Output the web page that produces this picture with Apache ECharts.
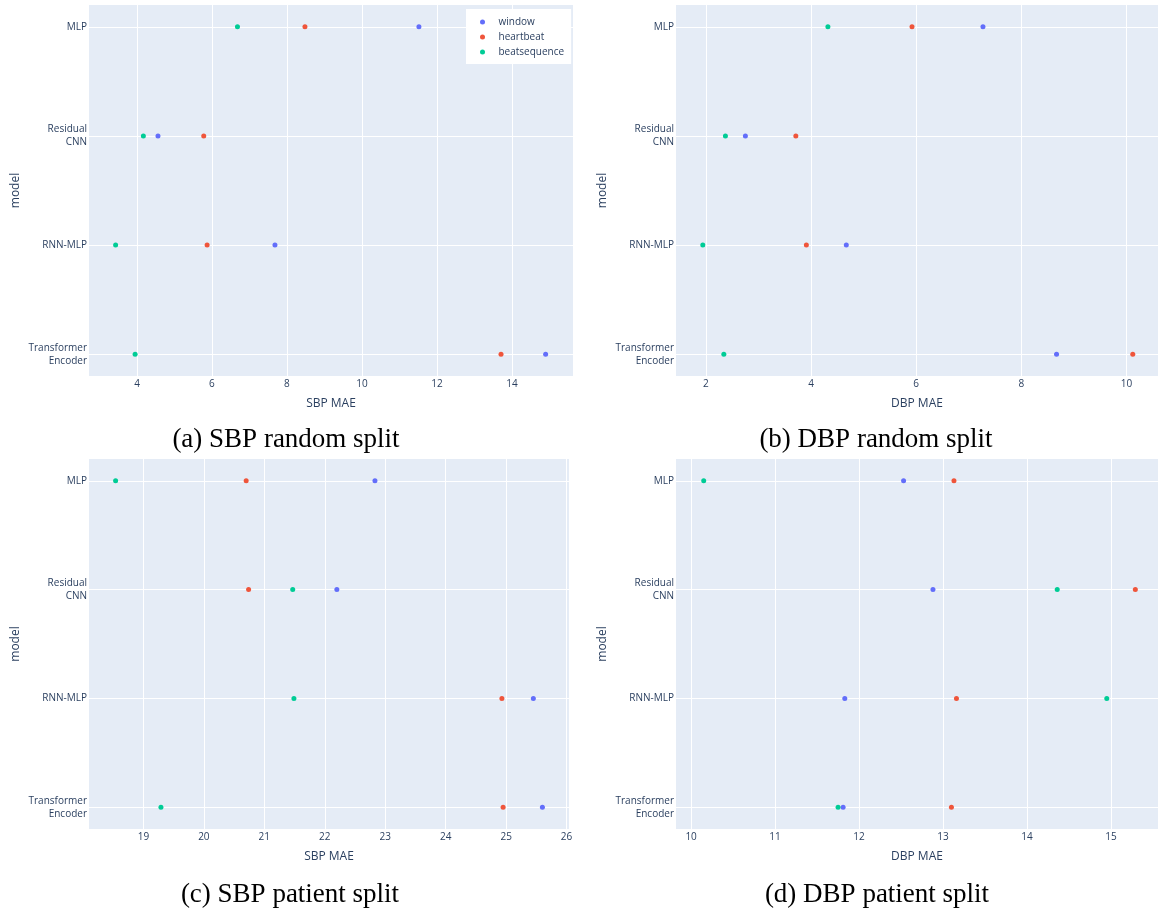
<!DOCTYPE html>
<html>
<head>
<meta charset="utf-8">
<script src="https://cdn.jsdelivr.net/npm/echarts@6/dist/echarts.min.js"></script>
<style>
html,body{margin:0;padding:0;background:#fff;}
#chart{width:1158px;height:909px;}
</style>
</head>
<body>
<div id="chart"></div>
<script>
// ---------- data ----------
const models = ['MLP', 'Residual\nCNN', 'RNN-MLP', 'Transformer\nEncoder'];
const seriesNames = ['window', 'heartbeat', 'beatsequence'];
const seriesColors = ['#636efa', '#EF553B', '#00cc96'];

// (a) SBP random split
const sbpRandomWindow = [11.52, 4.56, 7.68, 14.90];
const sbpRandomHeartbeat = [8.48, 5.78, 5.87, 13.71];
const sbpRandomBeatseq = [6.68, 4.17, 3.43, 3.95];
// (b) DBP random split
const dbpRandomWindow = [7.27, 2.75, 4.67, 8.67];
const dbpRandomHeartbeat = [5.92, 3.71, 3.91, 10.12];
const dbpRandomBeatseq = [4.32, 2.37, 1.94, 2.34];
// (c) SBP patient split
const sbpPatientWindow = [22.83, 22.20, 25.45, 25.60];
const sbpPatientHeartbeat = [20.70, 20.74, 24.93, 24.95];
const sbpPatientBeatseq = [18.54, 21.47, 21.49, 19.29];
// (d) DBP patient split
const dbpPatientWindow = [12.53, 12.88, 11.83, 11.81];
const dbpPatientHeartbeat = [13.13, 15.29, 13.16, 13.10];
const dbpPatientBeatseq = [10.15, 14.36, 14.95, 11.75];

const xTitles = ['SBP MAE', 'DBP MAE', 'SBP MAE', 'DBP MAE'];
const captions = ['(a) SBP random split', '(b) DBP random split', '(c) SBP patient split', '(d) DBP patient split'];
const xRanges = [[2.72, 15.63], [1.43, 10.60], [18.10, 26.04], [9.82, 15.56]];
const xSteps = [2, 2, 1, 1];

const panelData = [
  [sbpRandomWindow, sbpRandomHeartbeat, sbpRandomBeatseq],
  [dbpRandomWindow, dbpRandomHeartbeat, dbpRandomBeatseq],
  [sbpPatientWindow, sbpPatientHeartbeat, sbpPatientBeatseq],
  [dbpPatientWindow, dbpPatientHeartbeat, dbpPatientBeatseq]
];

// ---------- layout ----------
const grids = [
  {left: 89, top: 5, width: 484, height: 371},
  {left: 676, top: 5, width: 482, height: 371},
  {left: 89, top: 459, width: 480, height: 370},
  {left: 676, top: 459, width: 482, height: 370}
];
const captionPos = [
  {left: 286, top: 426},
  {left: 876, top: 426},
  {left: 290, top: 881},
  {left: 877, top: 881}
];

const TXT = '#2a3f5f';
const FONT = '"Open Sans", sans-serif';

const option = {
  animation: false,
  backgroundColor: '#ffffff',
  textStyle: {fontFamily: FONT},
  grid: grids.map(g => Object.assign({show: true, backgroundColor: '#E5ECF6', borderWidth: 0, containLabel: false}, g)),
  title: captions.map((c, i) => ({
    text: c, left: captionPos[i].left, top: captionPos[i].top, textAlign: 'center', padding: 0,
    textStyle: {fontFamily: '"Liberation Serif", "Times New Roman", serif', fontWeight: 'normal', fontSize: 27, color: '#000'}
  })),
  legend: {
    data: seriesNames,
    orient: 'vertical',
    left: 466, top: 9,
    backgroundColor: '#ffffff',
    padding: [7, 7, 6, 14],
    icon: 'circle',
    itemWidth: 22, itemHeight: 5,
    itemGap: 3,
    textStyle: {fontFamily: FONT, fontSize: 10, color: TXT, lineHeight: 12}
  },
  xAxis: grids.map((g, i) => ({
    type: 'value', gridIndex: i,
    min: xRanges[i][0], max: xRanges[i][1],
    minInterval: xSteps[i], maxInterval: xSteps[i],
    name: xTitles[i], nameLocation: 'middle', nameGap: 22,
    nameTextStyle: {fontFamily: FONT, fontSize: 12, color: TXT},
    axisLine: {show: false}, axisTick: {show: false},
    axisLabel: {fontFamily: FONT, fontSize: 10, color: TXT, margin: 3, showMinLabel: false, showMaxLabel: false},
    splitLine: {show: true, showMinLine: false, showMaxLine: false, lineStyle: {color: '#ffffff', width: 1}}
  })),
  yAxis: grids.map((g, i) => ({
    type: 'value', gridIndex: i, inverse: true,
    min: -0.2, max: 3.2, minInterval: 1, maxInterval: 1,
    name: 'model', nameLocation: 'middle', nameGap: 67,
    nameTextStyle: {fontFamily: FONT, fontSize: 12, color: TXT},
    axisLine: {show: false}, axisTick: {show: false},
    axisLabel: {
      fontFamily: FONT, fontSize: 10, color: TXT, margin: 2, lineHeight: 13, align: 'right',
      showMinLabel: false, showMaxLabel: false,
      formatter: v => {
        const r = Math.round(v);
        return (Math.abs(v - r) < 1e-6 && r >= 0 && r < models.length) ? models[r] : '';
      }
    },
    splitLine: {show: true, showMinLine: false, showMaxLine: false, lineStyle: {color: '#ffffff', width: 1}}
  })),
  series: []
};

panelData.forEach((arrs, p) => {
  arrs.forEach((vals, s) => {
    option.series.push({
      type: 'scatter',
      name: seriesNames[s],
      xAxisIndex: p, yAxisIndex: p,
      symbol: 'circle', symbolSize: 5,
      itemStyle: {color: seriesColors[s], opacity: 1},
      data: vals.map((v, k) => [v, k])
    });
  });
});

const chart = echarts.init(document.getElementById('chart'), null, {renderer: 'canvas'});
chart.setOption(option);
</script>
</body>
</html>
